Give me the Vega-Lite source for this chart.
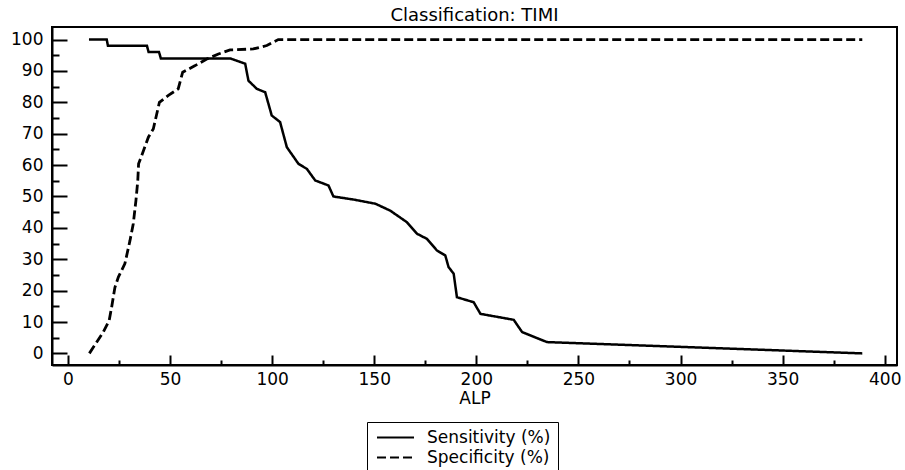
{
  "$schema": "https://vega.github.io/schema/vega-lite/v6.json",
  "width": 845,
  "height": 338,
  "autosize": "none",
  "padding": {"left": 52, "top": 27, "right": 8, "bottom": 105},
  "background": "#ffffff",
  "title": {"text": "Classification: TIMI", "fontSize": 18, "font": "DejaVu Sans", "fontWeight": "normal", "color": "#000000", "offset": -12, "anchor": "middle", "baseline": "alphabetic"},
  "data": {"values": [
    {"series": "Sensitivity (%)", "ALP": 10.3, "value": 100},
    {"series": "Sensitivity (%)", "ALP": 19, "value": 100},
    {"series": "Sensitivity (%)", "ALP": 19.6, "value": 98},
    {"series": "Sensitivity (%)", "ALP": 38.7, "value": 98},
    {"series": "Sensitivity (%)", "ALP": 39.5, "value": 96},
    {"series": "Sensitivity (%)", "ALP": 44.6, "value": 96},
    {"series": "Sensitivity (%)", "ALP": 45.5, "value": 94},
    {"series": "Sensitivity (%)", "ALP": 79.4, "value": 94},
    {"series": "Sensitivity (%)", "ALP": 86.8, "value": 92.3},
    {"series": "Sensitivity (%)", "ALP": 88.4, "value": 86.9},
    {"series": "Sensitivity (%)", "ALP": 92.5, "value": 84.3},
    {"series": "Sensitivity (%)", "ALP": 96.6, "value": 83.2},
    {"series": "Sensitivity (%)", "ALP": 99.8, "value": 75.8},
    {"series": "Sensitivity (%)", "ALP": 103.9, "value": 73.7},
    {"series": "Sensitivity (%)", "ALP": 107.2, "value": 65.7},
    {"series": "Sensitivity (%)", "ALP": 112.9, "value": 60.4},
    {"series": "Sensitivity (%)", "ALP": 117, "value": 58.8},
    {"series": "Sensitivity (%)", "ALP": 121.1, "value": 55.1},
    {"series": "Sensitivity (%)", "ALP": 127.6, "value": 53.5},
    {"series": "Sensitivity (%)", "ALP": 130, "value": 50},
    {"series": "Sensitivity (%)", "ALP": 140, "value": 49},
    {"series": "Sensitivity (%)", "ALP": 150.5, "value": 47.7},
    {"series": "Sensitivity (%)", "ALP": 157.8, "value": 45.5},
    {"series": "Sensitivity (%)", "ALP": 166, "value": 41.8},
    {"series": "Sensitivity (%)", "ALP": 171, "value": 38.1},
    {"series": "Sensitivity (%)", "ALP": 175.8, "value": 36.5},
    {"series": "Sensitivity (%)", "ALP": 180.7, "value": 32.8},
    {"series": "Sensitivity (%)", "ALP": 184.8, "value": 31.2},
    {"series": "Sensitivity (%)", "ALP": 186.4, "value": 27.5},
    {"series": "Sensitivity (%)", "ALP": 188.9, "value": 25.4},
    {"series": "Sensitivity (%)", "ALP": 190.5, "value": 17.9},
    {"series": "Sensitivity (%)", "ALP": 198.7, "value": 16.3},
    {"series": "Sensitivity (%)", "ALP": 202, "value": 12.6},
    {"series": "Sensitivity (%)", "ALP": 218.3, "value": 10.7},
    {"series": "Sensitivity (%)", "ALP": 222.4, "value": 6.8},
    {"series": "Sensitivity (%)", "ALP": 234.6, "value": 3.6},
    {"series": "Sensitivity (%)", "ALP": 389, "value": 0},
    {"series": "Specificity (%)", "ALP": 10.5, "value": 0},
    {"series": "Specificity (%)", "ALP": 17.3, "value": 6.8},
    {"series": "Specificity (%)", "ALP": 20.2, "value": 10.5},
    {"series": "Specificity (%)", "ALP": 21.4, "value": 14.7},
    {"series": "Specificity (%)", "ALP": 23, "value": 21},
    {"series": "Specificity (%)", "ALP": 24.7, "value": 24.3},
    {"series": "Specificity (%)", "ALP": 27.9, "value": 28.6},
    {"series": "Specificity (%)", "ALP": 30.4, "value": 36},
    {"series": "Specificity (%)", "ALP": 32, "value": 41.3},
    {"series": "Specificity (%)", "ALP": 33.3, "value": 48.7},
    {"series": "Specificity (%)", "ALP": 34.2, "value": 55},
    {"series": "Specificity (%)", "ALP": 34.6, "value": 60.4},
    {"series": "Specificity (%)", "ALP": 36.1, "value": 63},
    {"series": "Specificity (%)", "ALP": 39.4, "value": 68.9},
    {"series": "Specificity (%)", "ALP": 41.8, "value": 71.5},
    {"series": "Specificity (%)", "ALP": 44.8, "value": 80},
    {"series": "Specificity (%)", "ALP": 49.2, "value": 82.2},
    {"series": "Specificity (%)", "ALP": 54, "value": 84.3},
    {"series": "Specificity (%)", "ALP": 56.2, "value": 89.6},
    {"series": "Specificity (%)", "ALP": 62.3, "value": 91.7},
    {"series": "Specificity (%)", "ALP": 68, "value": 93.8},
    {"series": "Specificity (%)", "ALP": 73.7, "value": 95.4},
    {"series": "Specificity (%)", "ALP": 79.4, "value": 96.7},
    {"series": "Specificity (%)", "ALP": 90.8, "value": 97},
    {"series": "Specificity (%)", "ALP": 97.4, "value": 98.1},
    {"series": "Specificity (%)", "ALP": 103, "value": 100},
    {"series": "Specificity (%)", "ALP": 389, "value": 100}
  ]},
  "layer": [
    {
      "transform": [{"filter": "datum.series === 'Sensitivity (%)'"}],
      "mark": {"type": "line", "color": "#000000", "strokeWidth": 2.5},
      "encoding": {
        "x": {"field": "ALP", "type": "quantitative", "scale": {"domain": [-7.8, 406], "nice": false, "zero": false},
              "axis": {"orient": "bottom", "values": [0, 50, 100, 150, 200, 250, 300, 350, 400], "tickSize": -10, "labelPadding": 16, "title": "ALP", "titlePadding": 3}},
        "y": {"field": "value", "type": "quantitative", "scale": {"domain": [-3.7, 104], "nice": false, "zero": false},
              "axis": {"orient": "left", "values": [0, 10, 20, 30, 40, 50, 60, 70, 80, 90, 100], "tickSize": -15, "labelPadding": 24, "title": null}},
        "strokeDash": {"field": "series", "type": "nominal",
              "scale": {"domain": ["Sensitivity (%)", "Specificity (%)"], "range": [[1, 0], [9, 4]]},
              "legend": {"orient": "none", "legendX": 315, "legendY": 395, "title": null}}
      }
    },
    {
      "transform": [{"filter": "datum.series === 'Specificity (%)'"}],
      "mark": {"type": "line", "color": "#000000", "strokeWidth": 2.8},
      "encoding": {
        "x": {"field": "ALP", "type": "quantitative",
              "axis": {"orient": "bottom", "values": [25, 75, 125, 175, 225, 275, 325, 375], "tickSize": -5, "labels": false, "domain": false, "title": null}},
        "y": {"field": "value", "type": "quantitative",
              "axis": {"orient": "left", "values": [5, 15, 25, 35, 45, 55, 65, 75, 85, 95], "tickSize": -7, "labels": false, "domain": false, "title": null}},
        "strokeDash": {"field": "series", "type": "nominal"}
      }
    }
  ],
  "resolve": {"axis": {"x": "independent", "y": "independent"}},
  "config": {
    "view": {"stroke": "#000000", "strokeWidth": 2},
    "axis": {
      "grid": false,
      "domainColor": "#000000", "domainWidth": 2,
      "tickColor": "#000000", "tickWidth": 2,
      "labelFont": "DejaVu Sans", "labelFontSize": 17, "labelColor": "#000000",
      "titleFont": "DejaVu Sans", "titleFontSize": 17, "titleFontWeight": "normal", "titleColor": "#000000"
    },
    "legend": {
      "symbolType": "M-3,0H3",
      "symbolSize": 152,
      "symbolStrokeWidth": 2,
      "symbolStrokeColor": "#000000",
      "symbolOffset": 13,
      "labelOffset": 23,
      "padding": 7,
      "rowPadding": 2,
      "labelFont": "DejaVu Sans", "labelFontSize": 17, "labelColor": "#000000",
      "strokeColor": "#000000", "strokeWidth": 1
    }
  }
}
